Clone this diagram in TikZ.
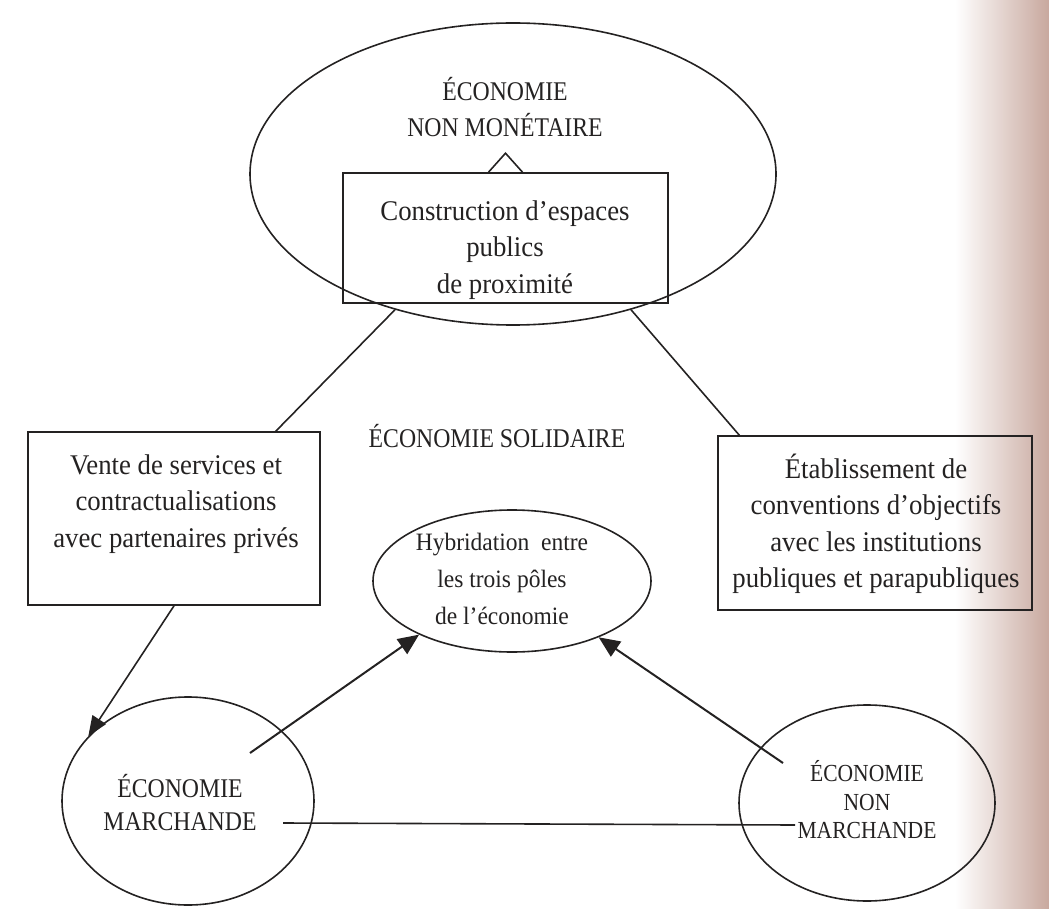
\documentclass[tikz,border=0pt]{standalone}
\usepackage{fontspec}
\setmainfont{Liberation Serif}
\newfontfamily\capsfont[FakeStretch=0.88]{Liberation Serif}
\newfontfamily\bodyfont[FakeStretch=0.94]{Liberation Serif}
\usetikzlibrary{arrows.meta,calc,shapes.geometric}
\definecolor{ink}{RGB}{36,34,34}
\definecolor{pageedge}{RGB}{200,168,158}
\tikzset{
  lineink/.style={draw=ink, line width=1.6pt},
  oval/.style={ellipse, lineink, inner sep=0pt},
  boxed/.style={rectangle, lineink, inner sep=0pt},
  txt/.style={text=ink, align=center, font=\bodyfont\fontsize{28.5}{36.5}\selectfont},
  captxt/.style={text=ink, align=center, font=\capsfont\fontsize{27}{36}\selectfont},
  conn/.style={lineink},
  arr/.style={lineink, line width=2pt, -{Triangle[length=21pt,width=18pt]}},
}
\begin{document}
\begin{tikzpicture}[x=1pt,y=-1pt]
\useasboundingbox (0,0) rectangle (1049,909);
\shade[left color=white, right color=pageedge] (955,0) rectangle (1049,909);

% top ellipse
\node[oval, minimum width=526pt, minimum height=302pt] (nm) at (513,174) {};
\node[captxt] (nmtxt) at (505,107) {ÉCONOMIE\\NON MONÉTAIRE};
% construction box
\node[boxed, minimum width=325pt, minimum height=130pt] (cbox) at (505.5,238) {};
\node[txt] (ctxt) at (505,250) {Construction d’espaces\\publics\\de proximité};
\draw[lineink] ($(cbox.north)+(-17,0)$) -- ++(17,-19) -- ++(17,19);

% side boxes
\node[boxed, minimum width=292pt, minimum height=173pt] (lbox) at (174,518.5) {};
\node[txt] (ltxt) at (176,504) {Vente de services et\\contractualisations\\avec partenaires privés};
\node[boxed, minimum width=314pt, minimum height=174pt] (rbox) at (875,523) {};
\node[txt] (rtxt) at (876,524) {Établissement de\\conventions d’objectifs\\avec les institutions\\publiques et parapubliques};

\node[captxt] (sol) at (497,436) {ÉCONOMIE SOLIDAIRE};

% central ellipse
\node[oval, minimum width=278pt, minimum height=142pt] (hyb) at (512,581) {};
\node[txt, font=\bodyfont\fontsize{25}{37}\selectfont] (htxt) at (502,579) {Hybridation\ \ entre\\les trois pôles\\de l’économie};

% bottom ellipses
\node[oval, minimum width=252pt, minimum height=208pt] (mar) at (188,801) {};
\node[captxt, font=\capsfont\fontsize{27}{33}\selectfont] (martxt) at (180,803) {ÉCONOMIE\\MARCHANDE};
\node[oval, minimum width=256pt, minimum height=196pt] (nmar) at (867,803) {};
\node[captxt, font=\capsfont\fontsize{24.5}{28.5}\selectfont] (nmartxt) at (867,800) {ÉCONOMIE\\NON\\MARCHANDE};

% connectors
\coordinate (lt) at (275,432);
\coordinate (rt) at (740,436);
\draw[conn] (nm.229) -- (lt);
\draw[conn] (nm.311) -- (rt);
\draw[conn, -{Triangle[length=20pt,width=16pt]}] (lbox.south) -- (mar.147);
\coordinate (ms) at (250,753);
\coordinate (ns) at (783,763);
\draw[arr] (ms) -- (hyb.210);
\draw[arr] (ns) -- (hyb.327);
\coordinate (ha) at (283,823);
\coordinate (hb) at (795,825);
\draw[conn] (ha) -- (hb);
\end{tikzpicture}
\end{document}
